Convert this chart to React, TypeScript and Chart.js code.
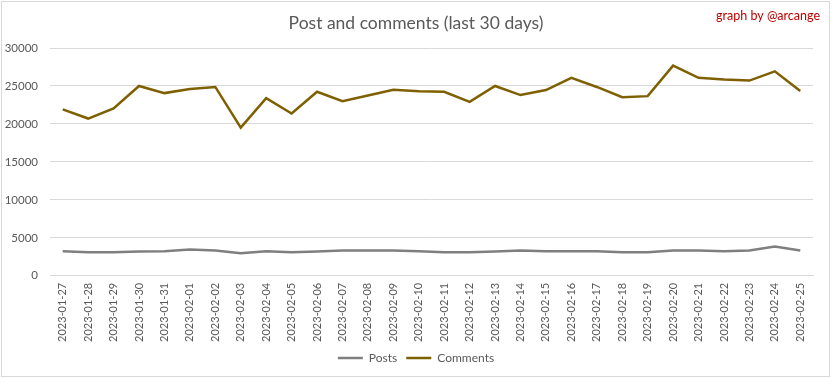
import React, { useEffect, useRef } from "react";
import { Chart, registerables } from "chart.js";

Chart.register(...registerables);

const dates = [
  "2023-01-27", "2023-01-28", "2023-01-29", "2023-01-30", "2023-01-31",
  "2023-02-01", "2023-02-02", "2023-02-03", "2023-02-04", "2023-02-05",
  "2023-02-06", "2023-02-07", "2023-02-08", "2023-02-09", "2023-02-10",
  "2023-02-11", "2023-02-12", "2023-02-13", "2023-02-14", "2023-02-15",
  "2023-02-16", "2023-02-17", "2023-02-18", "2023-02-19", "2023-02-20",
  "2023-02-21", "2023-02-22", "2023-02-23", "2023-02-24", "2023-02-25",
];

const posts = [
  3230, 3100, 3100, 3190, 3230, 3450, 3320, 2960, 3230, 3100,
  3190, 3320, 3320, 3320, 3230, 3100, 3100, 3190, 3320, 3230,
  3230, 3230, 3100, 3100, 3320, 3320, 3230, 3320, 3850, 3320,
];

const comments = [
  21920, 20710, 22050, 25000, 24060, 24600, 24870, 19510, 23390, 21380,
  24240, 22990, 23750, 24500, 24290, 24240, 22900, 25000, 23800, 24460,
  26070, 24870, 23530, 23660, 27680, 26070, 25850, 25710, 26920, 24330,
];

const yTicks = [0, 5000, 10000, 15000, 20000, 25000, 30000];

const FONT = "Lato, 'Liberation Sans', sans-serif";

const decorPlugin = {
  id: "decor",
  beforeDraw(chart: any) {
    const ctx = chart.ctx;
    ctx.save();
    ctx.fillStyle = "#ffffff";
    ctx.fillRect(0, 0, chart.width, chart.height);
    ctx.strokeStyle = "#d9d9d9";
    ctx.lineWidth = 1;
    ctx.strokeRect(1.5, 1.5, chart.width - 4, chart.height - 3);
    ctx.restore();
  },
  afterDraw(chart: any) {
    const ctx = chart.ctx;
    ctx.save();
    ctx.fillStyle = "#c00000";
    ctx.font = `12.5px ${FONT}`;
    ctx.textAlign = "right";
    ctx.textBaseline = "middle";
    ctx.fillText("graph by @arcange", 820, 16);
    ctx.restore();
  },
};

export default function App() {
  const ref = useRef<HTMLCanvasElement | null>(null);

  useEffect(() => {
    document.body.style.margin = "0";
    const canvas = ref.current!;
    const chart = new Chart(canvas, {
      type: "line",
      data: {
        labels: dates,
        datasets: [
          {
            label: "Posts",
            data: posts,
            borderColor: "#7f7f7f",
            backgroundColor: "#7f7f7f",
            borderWidth: 2.5,
            pointRadius: 0,
            tension: 0,
          },
          {
            label: "Comments",
            data: comments,
            borderColor: "#7f6000",
            backgroundColor: "#7f6000",
            borderWidth: 2.5,
            pointRadius: 0,
            tension: 0,
          },
        ],
      },
      options: {
        responsive: false,
        animation: false,
        layout: { padding: { left: 0, right: 0, top: 0, bottom: 4 } },
        plugins: {
          title: {
            display: true,
            text: "Post and comments (last 30 days)",
            color: "#595959",
            font: { family: FONT, size: 17.5, weight: "normal" },
            padding: { top: 13, bottom: 14 },
          },
          legend: {
            position: "bottom",
            labels: {
              usePointStyle: true,
              pointStyle: "line",
              pointStyleWidth: 25,
              color: "#595959",
              font: { family: FONT, size: 12 },
              padding: 9,
            },
          },
          tooltip: { enabled: false },
        },
        scales: {
          x: {
            offset: true,
            grid: { display: false, drawTicks: false },
            border: { display: true, color: "#d9d9d9" },
            afterFit(scale: any) {
              scale.height -= 6;
            },
            ticks: {
              color: "#595959",
              font: { family: FONT, size: 11 },
              minRotation: 90,
              maxRotation: 90,
              autoSkip: false,
              padding: 7,
            },
          },
          y: {
            min: 0,
            max: 30000,
            afterBuildTicks(scale: any) {
              scale.ticks = yTicks.map((v) => ({ value: v }));
            },
            afterFit(scale: any) {
              scale.width = 50;
            },
            grid: { color: "#d9d9d9", drawTicks: false },
            border: { display: false },
            ticks: {
              color: "#595959",
              font: { family: FONT, size: 11.5 },
              padding: 12,
              callback: (v: any) => String(v),
            },
          },
          yRight: {
            position: "right",
            display: true,
            min: 0,
            max: 30000,
            afterFit(scale: any) {
              scale.width = 19;
            },
            grid: { display: false, drawTicks: false },
            border: { display: false },
            ticks: { display: false },
          },
        },
      },
      plugins: [decorPlugin],
    });
    return () => chart.destroy();
  }, []);

  return <canvas ref={ref} width={832} height={378} style={{ display: "block" }} />;
}
